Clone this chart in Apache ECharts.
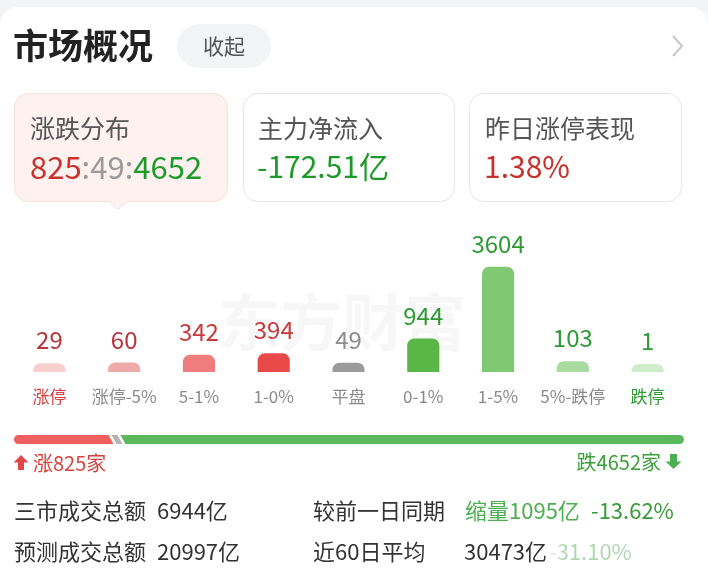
<!DOCTYPE html>
<html><head><meta charset="utf-8">
<script src="https://cdn.jsdelivr.net/npm/echarts@6/dist/echarts.min.js"></script>
<style>html,body{margin:0;padding:0;background:#f3f4f6;}#c{width:708px;height:568px;}</style>
</head><body><div id="c"></div>
<script>
// ---- data ----
const categories = ['涨停','涨停-5%','5-1%','1-0%','平盘','0-1%','1-5%','5%-跌停','跌停'];
const counts = [29, 60, 342, 394, 49, 944, 3604, 103, 1];
const upCount = 825;
const flatCount = 49;
const downCount = 4652;
const netInflow = '-172.51亿';
const yesterdayLimitUp = '1.38%';
const turnover = '6944亿';
const predictedTurnover = '20997亿';
const shrinkText = '缩量1095亿';
const shrinkPct = '-13.62%';
const avg60 = '30473亿';
const avg60Pct = '-31.10%';

// ---- styles ----
const FONT = '"Noto Sans CJK SC", "Noto Sans", sans-serif';
const barColors = ['#f8cfcf','#eeaaa9','#ef7d7d','#e84a4a','#9b9b9b','#58b746','#80c972','#a9dba0','#cfeccb'];
const labelColors = ['#b8343a','#b8343a','#c83a3a','#c83a3a','#8c8c8c','#2e9a34','#2e9a34','#2e9a34','#2e9a34'];
const MIN_H = 8;

function txt(text, x, y, size, color, opts) {
  opts = opts || {};
  return {
    type: 'text', x: x, y: y, z: opts.z || 5,
    style: Object.assign({
      text: text, fill: color,
      font: (opts.bold ? 'bold ' : '') + size + 'px ' + FONT,
      align: opts.align || 'left', textAlign: opts.align || 'left',
      verticalAlign: 'middle', textVerticalAlign: 'middle'
    }, opts.style || {})
  };
}

const chart = echarts.init(document.getElementById('c'));
const option = {
  animation: false,
  backgroundColor: '#f3f4f6',
  grid: [
    { left: 12, right: 23, top: 264, bottom: 196, outerBoundsMode: 'none' },
    { left: 14, right: 24, top: 435, height: 9, outerBoundsMode: 'none' }
  ],
  xAxis: [
    {
      type: 'category', gridIndex: 0, data: categories,
      axisLine: { show: false }, axisTick: { show: false }, splitLine: { show: false },
      axisLabel: {
        margin: 16, interval: 0,
        formatter: function (v, i) { return i === 0 ? '{r|' + v + '}' : (i === categories.length - 1 ? '{g|' + v + '}' : '{n|' + v + '}'); },
        rich: {
          r: { color: '#d04040', fontSize: 17, fontFamily: FONT },
          n: { color: '#8a8a8a', fontSize: 17, fontFamily: FONT },
          g: { color: '#2e9a34', fontSize: 17, fontFamily: FONT }
        }
      }
    },
    { type: 'value', gridIndex: 1, min: 0, max: upCount + flatCount + downCount, show: false }
  ],
  yAxis: [
    { type: 'value', gridIndex: 0, min: 0, max: 4000, show: false },
    { type: 'value', gridIndex: 1, min: 0, max: 1, show: false }
  ],
  series: [
    {
      type: 'custom', xAxisIndex: 0, yAxisIndex: 0, z: 3,
      data: counts.map(function (v, i) { return [i, v]; }),
      renderItem: function (params, api) {
        const idx = api.value(0), v = api.value(1);
        const base = api.coord([idx, 0]);
        const top = api.coord([idx, v]);
        const bw = api.size([1, 0])[0] * 0.43;
        const h = base[1] - top[1] + MIN_H;
        const y0 = base[1] - h;
        return {
          type: 'group', children: [
            { type: 'rect', shape: { x: base[0] - bw / 2, y: y0, width: bw, height: h, r: [7, 7, 0, 0] }, style: { fill: barColors[idx] } },
            { type: 'text', x: base[0], y: y0 - 23, style: { text: String(v), fill: labelColors[idx], font: '24px ' + FONT, align: 'center', textAlign: 'center', verticalAlign: 'middle', textVerticalAlign: 'middle' } }
          ]
        };
      }
    },
    {
      type: 'custom', xAxisIndex: 1, yAxisIndex: 1, z: 3,
      data: [[upCount, flatCount, downCount]],
      renderItem: function (params, api) {
        const u = api.value(0), f = api.value(1), d = api.value(2);
        const ps = api.coord([0, 1]), pe = api.coord([u + f + d, 0]);
        const top = ps[1], bot = pe[1], h = bot - top, r = h / 2;
        const b1 = api.coord([u, 0])[0], b2 = api.coord([u + f, 0])[0];
        const c = (b1 + b2) / 2, gw = Math.max(b2 - b1, 5), gap = 3, s = 5;
        const rx = c - gw / 2 - gap, gx = c + gw / 2 + gap;
        const x0 = ps[0], x1 = pe[0];
        return {
          type: 'group', children: [
            { type: 'circle', shape: { cx: x0 + r, cy: top + r, r: r }, style: { fill: '#ef5f5f' } },
            { type: 'polygon', shape: { points: [[x0 + r, top], [rx - s / 2, top], [rx + s / 2, bot], [x0 + r, bot]] }, style: { fill: '#ef5f5f' } },
            { type: 'polygon', shape: { points: [[c - gw / 2 - s / 2, top], [c + gw / 2 - s / 2, top], [c + gw / 2 + s / 2, bot], [c - gw / 2 + s / 2, bot]] }, style: { fill: '#b3b3b3' } },
            { type: 'polygon', shape: { points: [[gx - s / 2, top], [x1 - r, top], [x1 - r, bot], [gx + s / 2, bot]] }, style: { fill: '#5cb85c' } },
            { type: 'circle', shape: { cx: x1 - r, cy: top + r, r: r }, style: { fill: '#5cb85c' } }
          ]
        };
      }
    }
  ],
  graphic: [
    // white card
    { type: 'rect', z: 0, shape: { x: 0, y: 7, width: 708, height: 600, r: [18, 18, 0, 0] }, style: { fill: '#ffffff' } },
    // header
    txt('市场概况', 13, 46, 35, '#222222', { bold: true }),
    { type: 'rect', z: 1, shape: { x: 177, y: 24, width: 94, height: 44, r: 22 }, style: { fill: '#f3f4f6' } },
    txt('收起', 224, 46, 21, '#555555', { align: 'center' }),
    { type: 'polyline', z: 1, shape: { points: [[673, 36], [682, 46], [673, 56]] }, style: { stroke: '#c8c8c8', lineWidth: 2, fill: null } },
    // cards
    { type: 'rect', z: 1, shape: { x: 14.5, y: 93.5, width: 213, height: 108, r: 14 }, style: { fill: '#fdf2ef', stroke: '#f6e0da', lineWidth: 1 } },
    { type: 'polygon', z: 2, shape: { points: [[109, 201], [127, 201], [118, 209.5]] }, style: { fill: '#fdf2ef' } },
    { type: 'polyline', z: 2, shape: { points: [[109, 201.5], [118, 209.5], [127, 201.5]] }, style: { stroke: '#f6e0da', lineWidth: 1, fill: null } },
    { type: 'rect', z: 1, shape: { x: 243.5, y: 93.5, width: 211, height: 108, r: 14 }, style: { fill: '#ffffff', stroke: '#e6e6e6', lineWidth: 1 } },
    { type: 'rect', z: 1, shape: { x: 469.5, y: 93.5, width: 212, height: 108, r: 14 }, style: { fill: '#ffffff', stroke: '#e6e6e6', lineWidth: 1 } },
    txt('涨跌分布', 30, 128, 25, '#555555'),
    txt('主力净流入', 258, 128, 25, '#555555'),
    txt('昨日涨停表现', 485, 128, 25, '#555555'),
    {
      type: 'text', x: 30, y: 167, z: 5,
      style: {
        text: '{r|' + upCount + '}{s|:}{m|' + flatCount + '}{s|:}{g|' + downCount + '}',
        verticalAlign: 'middle', textVerticalAlign: 'middle',
        rich: {
          r: { fill: '#c8322d', color: '#c8322d', fontSize: 31, fontFamily: FONT },
          s: { fill: '#9a9a9a', color: '#9a9a9a', fontSize: 31, fontFamily: FONT },
          m: { fill: '#9a9a9a', color: '#9a9a9a', fontSize: 31, fontFamily: FONT },
          g: { fill: '#1e9a2a', color: '#1e9a2a', fontSize: 31, fontFamily: FONT }
        }
      }
    },
    txt(netInflow, 257, 167, 30, '#1e9a2a'),
    txt(yesterdayLimitUp, 484, 167, 30, '#c8322d'),
    // watermark
    txt('东方财富', 342, 322, 62, 'rgba(0,0,0,0.03)', { align: 'center', bold: true, z: 1 }),
    // up / down legend
    { type: 'polygon', z: 2, shape: { points: [[21, 455], [28.5, 462.5], [24, 462.5], [24, 470], [18, 470], [18, 462.5], [13.5, 462.5]] }, style: { fill: '#e0474a' } },
    txt('涨' + upCount + '家', 33, 463, 20, '#d6433e'),
    txt('跌' + downCount + '家', 661, 462, 20, '#3b9e3b', { align: 'right' }),
    { type: 'polygon', z: 2, shape: { points: [[670, 454], [677, 454], [677, 461.5], [681.5, 461.5], [673.5, 469], [665.5, 461.5], [670, 461.5]] }, style: { fill: '#4caf50' } },
    // bottom rows
    txt('三市成交总额', 14, 511, 22, '#333333'),
    txt(turnover, 157, 511, 22, '#333333'),
    txt('较前一日同期', 313, 511, 22, '#333333'),
    txt(shrinkText, 465, 511, 22, '#4caf50'),
    txt(shrinkPct, 591, 511, 22, '#3a9a3a'),
    txt('预测成交总额', 14, 552, 22, '#333333'),
    txt(predictedTurnover, 157, 552, 22, '#333333'),
    txt('近60日平均', 313, 552, 22, '#333333'),
    txt(avg60, 464, 552, 22, '#333333'),
    txt(avg60Pct, 549, 552, 22, '#3a9a3a'),
    {
      type: 'rect', z: 6, shape: { x: 546, y: 536, width: 162, height: 32 },
      style: {
        fill: new echarts.graphic.LinearGradient(0, 0, 1, 0, [
          { offset: 0, color: 'rgba(255,255,255,0.95)' },
          { offset: 0.12, color: 'rgba(255,255,255,0.6)' },
          { offset: 0.5, color: 'rgba(255,255,255,0.6)' },
          { offset: 0.66, color: 'rgba(255,255,255,1)' },
          { offset: 1, color: 'rgba(255,255,255,1)' }
        ])
      }
    }
  ]
};
chart.setOption(option);
</script>
</body></html>
